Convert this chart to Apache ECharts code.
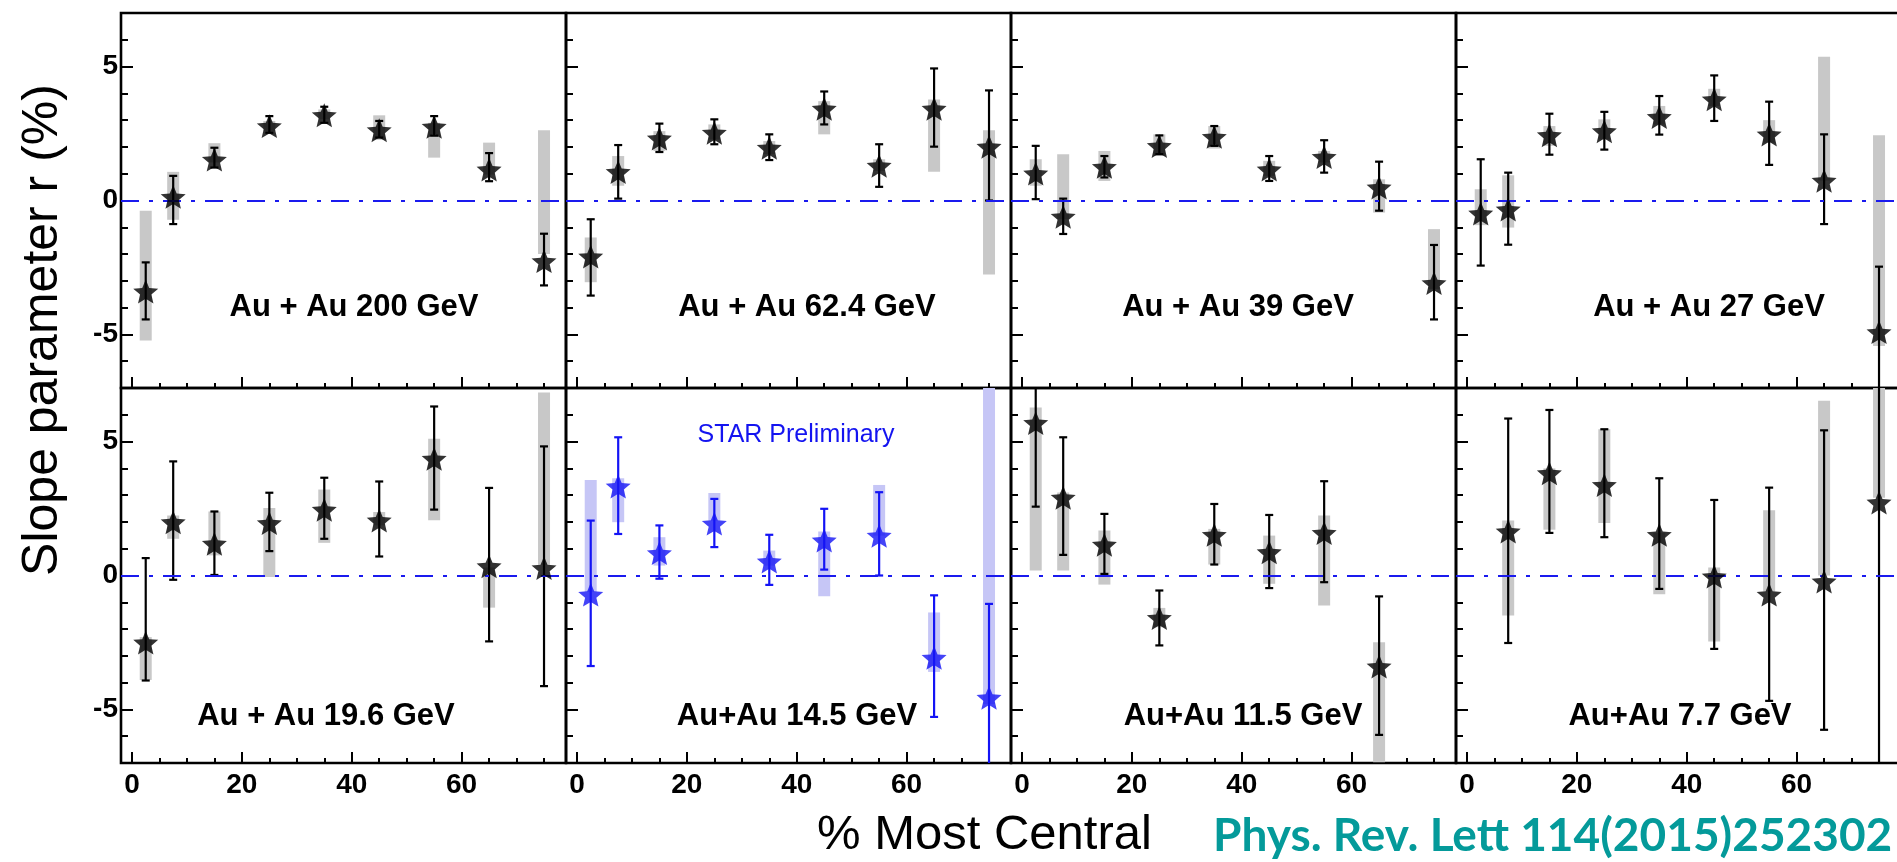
<!DOCTYPE html>
<html>
<head>
<meta charset="utf-8">
<script src="https://cdn.jsdelivr.net/npm/echarts@6/dist/echarts.min.js"></script>
<style>
  html, body { margin: 0; padding: 0; background: #fff; }
  #main { width: 1897px; height: 862px; }
</style>
</head>
<body>
<div id="main"></div>
<script>
// rows: [centrality %, r (%), stat low, stat high, sys low, sys high]
const auau200 = [
  [2.5, -3.36, -4.44, -2.31, -5.23, -0.38],
  [7.5, 0.17, -0.88, 0.92, -0.72, 1.07],
  [15, 1.56, 1.23, 1.97, 1.42, 2.14],
  [25, 2.81, 2.53, 3.15, 2.60, 2.97],
  [35, 3.22, 2.90, 3.50, 3.03, 3.40],
  [45, 2.66, 2.35, 2.97, 2.26, 3.18],
  [55, 2.79, 2.42, 3.15, 1.60, 2.90],
  [65, 1.19, 0.72, 1.77, 0.97, 2.16],
  [75, -2.23, -3.17, -1.24, -2.00, 2.62]
];
const auau624 = [
  [2.5, -2.06, -3.55, -0.70, -3.05, -1.38],
  [7.5, 1.10, 0.07, 2.07, 0.55, 1.66],
  [15, 2.35, 1.81, 2.87, 1.85, 2.59],
  [25, 2.56, 2.10, 3.03, 2.28, 2.84],
  [35, 2.00, 1.51, 2.47, 1.73, 2.22],
  [45, 3.46, 2.84, 4.07, 2.47, 3.71],
  [55, 1.33, 0.51, 2.10, 1.10, 1.54],
  [65, 3.46, 2.01, 4.93, 1.07, 3.77],
  [75, 2.04, 0.00, 4.11, -2.76, 2.62]
];
const auau39 = [
  [2.5, 1.04, 0.05, 2.04, 0.55, 1.54],
  [7.5, -0.57, -1.25, 0.07, -0.70, 1.73],
  [15, 1.29, 0.86, 1.66, 0.73, 1.85],
  [25, 2.07, 1.73, 2.43, 1.66, 2.47],
  [35, 2.41, 2.04, 2.78, 1.94, 2.78],
  [45, 1.19, 0.73, 1.66, 0.92, 1.48],
  [55, 1.66, 1.04, 2.25, 1.42, 1.85],
  [65, 0.52, -0.38, 1.45, -0.45, 0.79],
  [75, -3.05, -4.44, -1.66, -3.30, -1.07]
];
const auau27 = [
  [2.5, -0.45, -2.43, 1.54, -0.92, 0.42],
  [7.5, -0.30, -1.65, 1.04, -1.01, 0.94],
  [15, 2.47, 1.71, 3.24, 2.04, 2.78],
  [25, 2.62, 1.90, 3.31, 2.28, 3.03],
  [35, 3.15, 2.46, 3.90, 2.84, 3.53],
  [45, 3.81, 2.97, 4.67, 3.53, 4.17],
  [55, 2.50, 1.33, 3.69, 2.16, 3.00],
  [65, 0.77, -0.88, 2.47, 0.75, 5.37],
  [75, -4.88, -7.50, -2.47, -5.43, 2.44]
];
const auau196 = [
  [2.5, -2.47, -3.92, 0.65, -3.90, -2.30],
  [7.5, 2.02, -0.16, 4.26, 1.37, 2.24],
  [15, 1.22, 0.02, 2.39, 0.75, 2.39],
  [25, 1.99, 0.91, 3.09, -0.06, 2.52],
  [35, 2.49, 1.37, 3.65, 1.22, 3.21],
  [45, 2.09, 0.71, 3.51, 1.87, 2.37],
  [55, 4.39, 2.46, 6.31, 2.06, 5.11],
  [65, 0.38, -2.46, 3.27, -1.20, 0.30],
  [75, 0.31, -4.13, 4.82, 0.40, 6.83]
];
const auau145 = [
  [2.5, -0.68, -3.38, 2.05, -0.62, 3.57],
  [7.5, 3.36, 1.55, 5.16, 1.99, 3.63],
  [15, 0.87, -0.12, 1.87, 0.37, 1.43],
  [25, 1.97, 1.06, 2.86, 2.05, 3.08],
  [35, 0.56, -0.35, 1.52, 0.37, 0.93],
  [45, 1.34, 0.22, 2.49, -0.77, 1.64],
  [55, 1.52, 0.00, 3.11, 1.49, 3.38],
  [65, -3.04, -5.28, -0.74, -3.60, -1.38],
  [75, -4.53, -7.50, -1.06, -4.80, 7.50]
];
const auau115 = [
  [2.5, 5.73, 2.57, 7.50, 0.19, 6.27],
  [7.5, 2.94, 0.77, 5.16, 0.19, 3.10],
  [15, 1.18, 0.06, 2.30, -0.34, 1.68],
  [25, -1.55, -2.61, -0.56, -1.93, -1.21],
  [35, 1.55, 0.41, 2.67, 0.41, 1.74],
  [45, 0.90, -0.47, 2.26, -0.31, 1.49],
  [55, 1.62, -0.25, 3.52, -1.12, 2.24],
  [65, -3.36, -5.95, -0.78, -6.97, -2.49]
];
const auau77 = [
  [7.5, 1.68, -2.52, 5.86, -1.49, 2.05],
  [15, 3.85, 1.59, 6.18, 1.71, 4.00],
  [25, 3.41, 1.43, 5.46, 1.96, 5.46],
  [35, 1.55, -0.50, 3.63, -0.70, 1.60],
  [45, 0.00, -2.74, 2.82, -2.46, 0.30],
  [55, -0.68, -4.68, 3.28, -0.60, 2.44],
  [65, -0.19, -5.76, 5.42, 0.00, 6.52],
  [75, 2.76, -7.50, 7.50, 2.90, 7.50]
];

const panelData = [auau200, auau624, auau39, auau27, auau196, auau145, auau115, auau77];
const panelLabels = ['Au + Au 200 GeV', 'Au + Au 62.4 GeV', 'Au + Au 39 GeV', 'Au + Au 27 GeV',
                     'Au + Au 19.6 GeV', 'Au+Au 14.5 GeV', 'Au+Au 11.5 GeV', 'Au+Au 7.7 GeV'];
const previewPanel = 5; // STAR Preliminary (blue)

const xRange = [-2, 79];
const yRange = [-7, 7];
const xMajorTicks = [0, 20, 40, 60];
const xMinorTicks = [5, 10, 15, 25, 30, 35, 45, 50, 55, 65, 70, 75];
const yMajorTicks = [-5, 0, 5];
const yMinorTicks = [-6, -4, -3, -2, -1, 1, 2, 3, 4, 6];

const yTitle = 'Slope parameter r (%)';
const xTitle = '% Most Central';
const refText = 'Phys. Rev. Lett 114(2015)252302';
const prelimText = 'STAR Preliminary';

// ---------- layout / style ----------
const colLeft = [121, 566, 1011, 1456];
const rowTop = [13, 388];
const gw = 445, gh = 375;
const labelPos = [[354, 307], [807, 307], [1238, 307], [1709, 307],
                  [326, 716], [797, 716], [1243, 716], [1680, 716]];
const FONT = '"Liberation Sans", Arial, Helvetica, sans-serif';
const STAR = 'path://M0,-100L26.45,-36.41L95.11,-30.9L42.8,13.9L58.78,80.9L0,45L-58.78,80.9L-42.8,13.9L-95.11,-30.9L-26.45,-36.41Z';
const ZERO_BLUE = '#1a1aee';

const chart = echarts.init(document.getElementById('main'), null, {renderer: 'canvas'});

const grids = [], xAxes = [], yAxes = [], series = [], graphics = [];

function errRenderer(color, boxColor) {
  return function (params, api) {
    const x = api.value(0);
    const pLo = api.coord([x, api.value(2)]);
    const pHi = api.coord([x, api.value(3)]);
    const bLo = api.coord([x, api.value(4)]);
    const bHi = api.coord([x, api.value(5)]);
    const bw = 12, cw = 8;
    const ls = {stroke: color, lineWidth: 2.2};
    return {
      type: 'group',
      children: [
        {type: 'rect', shape: {x: bLo[0] - bw / 2, y: bHi[1], width: bw, height: bLo[1] - bHi[1]}, style: {fill: boxColor}},
        {type: 'line', shape: {x1: pLo[0], y1: pLo[1], x2: pHi[0], y2: pHi[1]}, style: ls},
        {type: 'line', shape: {x1: pLo[0] - cw / 2, y1: pLo[1], x2: pLo[0] + cw / 2, y2: pLo[1]}, style: ls},
        {type: 'line', shape: {x1: pHi[0] - cw / 2, y1: pHi[1], x2: pHi[0] + cw / 2, y2: pHi[1]}, style: ls}
      ]
    };
  };
}

function axisBase(extra) {
  return Object.assign({
    axisLine: {show: false, onZero: false},
    splitLine: {show: false}
  }, extra);
}

for (let i = 0; i < 8; i++) {
  const col = i % 4, row = Math.floor(i / 4);
  const blue = i === previewPanel;
  const mColor = blue ? '#1414f5' : '#000';
  const bColor = blue ? '#c6c6f6' : '#c8c8c8';

  grids.push({
    left: colLeft[col], top: rowTop[row], width: gw, height: gh,
    show: true, borderColor: '#000', borderWidth: 2.6, backgroundColor: 'transparent',
    containLabel: false, outerBoundsMode: 'none'
  });

  xAxes.push(axisBase({
    type: 'value', gridIndex: i, min: xRange[0], max: xRange[1], position: 'bottom', offset: 0,
    axisTick: {show: true, inside: true, length: 11, lineStyle: {color: '#000', width: 2}, customValues: xMajorTicks},
    axisLabel: {show: row === 1, customValues: xMajorTicks, color: '#000', fontFamily: FONT, fontWeight: 'bold', fontSize: 28, margin: 8}
  }));
  xAxes.push(axisBase({
    type: 'value', gridIndex: i, min: xRange[0], max: xRange[1], position: 'bottom', offset: 0,
    axisTick: {show: true, inside: true, length: 5, lineStyle: {color: '#000', width: 2}, customValues: xMinorTicks},
    axisLabel: {show: false}
  }));
  yAxes.push(axisBase({
    type: 'value', gridIndex: i, min: yRange[0], max: yRange[1], position: 'left', offset: 0,
    axisTick: {show: true, inside: true, length: 12, lineStyle: {color: '#000', width: 2}, customValues: yMajorTicks},
    axisLabel: {show: col === 0, customValues: yMajorTicks, color: '#000', fontFamily: FONT, fontWeight: 'bold', fontSize: 28, margin: 3}
  }));
  yAxes.push(axisBase({
    type: 'value', gridIndex: i, min: yRange[0], max: yRange[1], position: 'left', offset: 0,
    axisTick: {show: true, inside: true, length: 7, lineStyle: {color: '#000', width: 2}, customValues: yMinorTicks},
    axisLabel: {show: false}
  }));

  series.push({
    type: 'custom', xAxisIndex: 2 * i, yAxisIndex: 2 * i, clip: true, z: 2,
    data: panelData[i], encode: {x: 0, y: [1, 2, 3, 4, 5]},
    renderItem: errRenderer(mColor, bColor),
    markLine: {
      silent: true, symbol: 'none', label: {show: false}, z: 3,
      lineStyle: {color: ZERO_BLUE, width: 2.2, type: [18, 10, 4, 10]},
      data: [{yAxis: 0}]
    }
  });
  series.push({
    type: 'scatter', xAxisIndex: 2 * i, yAxisIndex: 2 * i, z: 4,
    data: panelData[i].map(d => [d[0], d[1]]),
    symbol: STAR, symbolSize: 25, symbolKeepAspect: true, symbolOffset: [0, 1],
    itemStyle: {color: mColor}
  });

  graphics.push({
    type: 'text', x: labelPos[i][0], y: labelPos[i][1], z: 10,
    style: {text: panelLabels[i], fill: '#000', font: 'bold 31px ' + FONT, textAlign: 'center', textVerticalAlign: 'middle'}
  });
}

graphics.push({
  type: 'text', x: 796, y: 435, z: 10,
  style: {text: prelimText, fill: '#1414f0', font: '25px ' + FONT, textAlign: 'center', textVerticalAlign: 'middle'}
});
graphics.push({
  type: 'text', x: 43, y: 330, rotation: Math.PI / 2, z: 10,
  style: {text: yTitle, fill: '#000', font: '50px ' + FONT, textAlign: 'center', textVerticalAlign: 'middle'}
});
graphics.push({
  type: 'text', x: 817, y: 835, z: 10,
  style: {text: xTitle, fill: '#000', font: '49px ' + FONT, textAlign: 'left', textVerticalAlign: 'middle'}
});
graphics.push({
  type: 'text', x: 1213, y: 836, z: 10,
  style: {text: refText, fill: '#049a9a', font: 'bold 46px Lato, "Open Sans", sans-serif', textAlign: 'left', textVerticalAlign: 'middle'}
});

chart.setOption({
  animation: false,
  backgroundColor: '#fff',
  grid: grids, xAxis: xAxes, yAxis: yAxes, series: series, graphic: graphics
});
</script>
</body>
</html>
